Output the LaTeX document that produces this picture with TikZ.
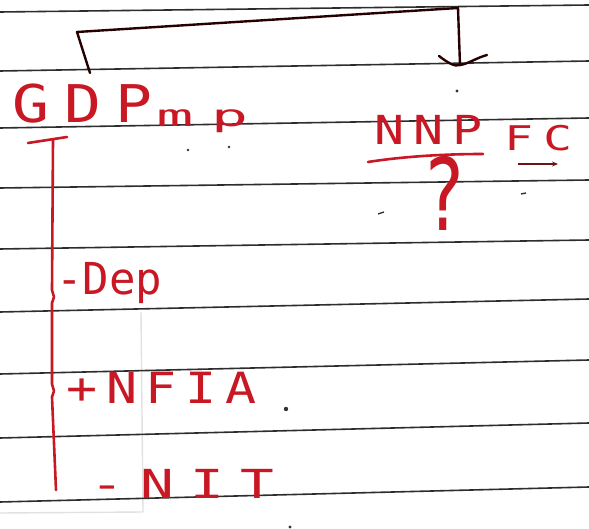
\documentclass[tikz,border=0pt]{standalone}
\usepackage{fontspec}
\newfontfamily\handfont{DejaVu Sans Mono}
\usetikzlibrary{arrows.meta}
\definecolor{ink}{RGB}{200,24,36}
\definecolor{darkink}{RGB}{110,20,24}
\definecolor{rule}{RGB}{45,45,45}
\definecolor{ghost}{RGB}{226,224,224}
\tikzset{
  ruled/.style={draw=rule, line width=1.6pt},
  handtext/.style={text=ink, inner sep=0pt, anchor=base west},
  redpen/.style={draw=ink, line width=2.6pt, line cap=round, line join=round},
  blackpen/.style={draw=black!85!red, line width=2.4pt, line cap=round, line join=round},
  speck/.style={fill=black!80, draw=none},
}
\newcommand{\handsz}[2]{\handfont\addfontfeatures{LetterSpace=#2}\fontsize{#1}{#1}\selectfont}
\begin{document}
\begin{tikzpicture}[x=1pt,y=-1pt]
  \useasboundingbox (0,0) rectangle (589,529);
  \fill[white] (0,0) rectangle (589,529);

  % faint marks showing through the page
  \draw[ghost, line width=1.4pt] (141,312) -- (143,512);
  \draw[ghost, line width=1.4pt] (0,513) -- (143,512);

  % ruled lines of the notebook page
  \draw[ruled] (0,12) -- (589,5);
  \draw[ruled] (0,71) -- (589,61);
  \draw[ruled] (0,128) -- (589,118);
  \draw[ruled] (0,188) -- (589,180);
  \draw[ruled] (0,249) -- (589,240);
  \draw[ruled] (0,312) -- (589,299);
  \draw[ruled] (0,374) -- (589,360);
  \draw[ruled] (0,438) -- (589,423);
  \draw[ruled] (0,502) -- (589,487);

  % headings
  \node[handtext, font=\handsz{52}{0}, xscale=1.18] (gdp) at (12,123) {G\kern13pt D\kern12pt P};
  \node[handtext, font=\handsz{30}{29}, xscale=2.05] (gdpsub) at (156,127) {mp};
  \node[handtext, font=\handsz{40}{18}, xscale=1.25] (nnp) at (374,145) {NNP};
  \node[handtext, font=\handsz{34}{22}, xscale=1.4] (fc) at (504,151) {FC};
  \node[text=ink, inner sep=0pt, anchor=base, font=\handfont\fontsize{100}{100}\selectfont, xscale=0.72] (qmark) at (444,231) {?};

  % items under GDP
  \node[handtext, font=\handsz{44}{0}, xscale=1.0] (dep) at (56,295) {-Dep};
  \node[handtext, font=\handsz{43}{17}, xscale=1.2] (nfia) at (66,403) {+NFIA};
  \node[handtext, font=\handsz{40}{29}, xscale=1.4] (nit) at (90,498) {-NIT};

  % bracket from GDP over to NNP with its arrowhead
  \coordinate (gdptop) at (90,73);
  \coordinate (nnptop) at (460,65);
  \draw[blackpen] (gdptop) -- (77,32) -- (458,8) -- (nnptop);
  \draw[blackpen] (439,56) .. controls (448,63) and (455,67) .. (nnptop)
                  .. controls (468,64) and (476,58) .. (487,55);

  % underline beneath NNP and arrow beneath FC
  \draw[redpen] (368,162) .. controls (400,157) and (440,154) .. (483,154);
  \draw[draw=darkink, line width=2pt, -{Stealth[length=6pt,width=5pt]}] (518,164) -- (558,164);

  % red bracket down the left side
  \draw[redpen] (28,143) -- (67,137);
  \draw[redpen] (53,140) -- (52,290) -- (54,297) -- (52,303) -- (52,384)
                -- (54,391) -- (52,397) -- (56,490);

  % stray pen specks
  \fill[speck] (457,91) circle (1.6);
  \fill[speck] (188,150) circle (1.4);
  \fill[speck] (229,147) circle (1.4);
  \fill[speck] (286,409) circle (2.2);
  \fill[speck] (290,527) circle (1.6);
  \draw[black!80, line width=1.4pt] (378,214) -- (384,212);
  \draw[black!80, line width=1.4pt] (521,194) -- (526,193);
\end{tikzpicture}
\end{document}
